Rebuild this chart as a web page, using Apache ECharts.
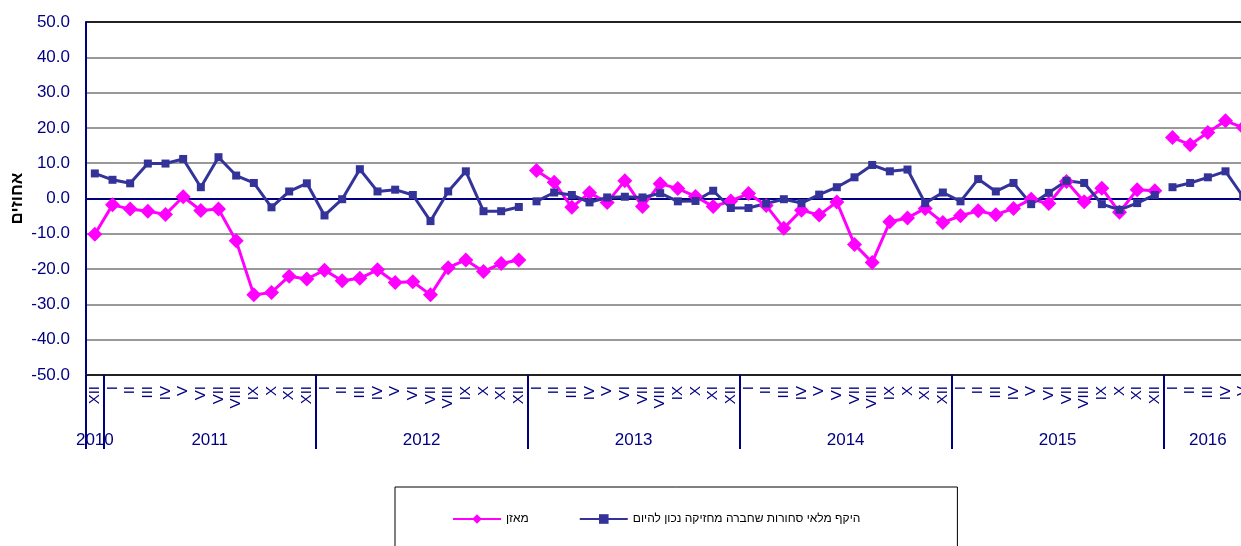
<!DOCTYPE html>
<html>
<head>
<meta charset="utf-8">
<script src="https://cdn.jsdelivr.net/npm/echarts@6/dist/echarts.min.js"></script>
<style>
  html, body { margin: 0; padding: 0; background: #fff; overflow: hidden; }
  /* הגרף המקורי חתוך בקצה הימני, לכן האלמנט רחב מהחלון */
  #chart { width: 1252px; height: 546px; }
</style>
</head>
<body>
<div id="chart"></div>
<script>
// תוויות חודשים (ספרות רומיות) ושנים
const romanMonths = ['I', 'II', 'III', 'IV', 'V', 'VI', 'VII', 'VIII', 'IX', 'X', 'XI', 'XII'];
const years = ['2010', '2011', '2012', '2013', '2014', '2015', '2016'];
// מספר החודשים שמוצגים בכל שנה (2010: רק דצמבר, 2016: ינואר-מאי)
const monthsPerYear = [1, 12, 12, 12, 12, 12, 5];

// מאזן
const balance = [
  -10.1, -1.8, -3.0, -3.6, -4.5, 0.5, -3.4, -3.0, -12.0, -27.3, -26.6, -22.0, -22.8,
  -20.3, -23.3, -22.6, -20.2, -23.8, -23.6, -27.3, -19.6, -17.4, -20.7, -18.4, -17.4,
  7.9, 4.6, -2.5, 1.6, -1.1, 5.0, -2.3, 4.2, 2.8, 0.6, -2.3, -0.7,
  1.4, -2.0, -8.4, -3.3, -4.7, -1.0, -13.0, -18.1, -6.6, -5.5, -2.8, -6.8,
  -4.9, -3.5, -4.6, -2.8, -0.2, -1.4, 4.8, -0.9, 2.9, -3.9, 2.5, 2.2,
  17.3, 15.2, 18.7, 22.0, 20.1
];

// היקף מלאי סחורות שחברה מחזיקה נכון להיום
const inventory = [
  7.1, 5.3, 4.3, 9.9, 9.9, 11.2, 3.2, 11.7, 6.5, 4.4, -2.5, 2.0, 4.3,
  -4.8, -0.2, 8.3, 2.0, 2.5, 1.0, -6.4, 2.0, 7.7, -3.6, -3.6, -2.4,
  -0.8, 1.7, 1.0, -1.1, 0.3, 0.5, 0.3, 1.5, -0.8, -0.7, 2.2, -2.7,
  -2.7, -1.4, -0.2, -1.3, 1.1, 3.2, 6.0, 9.5, 7.7, 8.2, -1.3, 1.7,
  -0.8, 5.5, 2.0, 4.4, -1.6, 1.6, 5.0, 4.4, -1.6, -3.2, -1.3, 1.0,
  3.2, 4.4, 6.0, 7.7, 0.5
];

// הסדרה נקטעת בין דצמבר 2012 לינואר 2013 ובין דצמבר 2015 לינואר 2016
const segments = [[0, 24], [25, 60], [61, 65]];

const BALANCE_NAME = 'מאזן';
const INVENTORY_NAME = 'היקף מלאי סחורות שחברה מחזיקה נכון להיום';
const NAVY = '#000080';
const FONT = '"Liberation Sans", Arial, "DejaVu Sans", sans-serif';

// קטגוריות חודשיות
const monthCats = [];
monthsPerYear.forEach((n, yi) => {
  const start = yi === 0 ? 12 - n : 0;
  for (let m = start; m < start + n; m++) monthCats.push(romanMonths[m]);
});

// ציר שנים בחצאי חודשים: גבולות שנה ותוויות באמצע כל שנה
const halfCount = monthCats.length * 2 + 1;
const yearBoundaries = [0];
const yearLabelAt = {};
let pos = 0;
monthsPerYear.forEach((n, yi) => {
  yearLabelAt[pos + n] = years[yi];
  pos += n * 2;
  yearBoundaries.push(pos);
});
const halfCats = [];
for (let i = 0; i < halfCount; i++) halfCats.push(yearLabelAt[i] || '');

function segmentSeries(name, values, style) {
  return segments.map(([a, b]) => Object.assign({
    name: name,
    type: 'line',
    xAxisIndex: 0,
    yAxisIndex: 0,
    connectNulls: false,
    data: values.map((v, i) => (i >= a && i <= b ? v : null))
  }, style));
}

const chart = echarts.init(document.getElementById('chart'));

const splitColors = [];
for (let i = 0; i <= 10; i++) {
  splitColors.push(i === 0 || i === 10 ? '#222' : (i === 5 ? NAVY : '#999'));
}

const option = {
  animation: false,
  textStyle: { fontFamily: FONT },
  grid: { left: 86, right: 0, top: 22, bottom: 171, containLabel: false, outerBoundsMode: 'none' },
  legend: {
    data: [BALANCE_NAME, INVENTORY_NAME],
    left: 395,
    top: 487,
    orient: 'horizontal',
    padding: [26, 97, 40, 57],
    itemGap: 50,
    itemWidth: 48,
    itemHeight: 12,
    borderColor: '#000',
    borderWidth: 1,
    textStyle: { fontSize: 12, color: '#000', fontFamily: FONT }
  },
  xAxis: [
    {
      type: 'category',
      data: monthCats,
      boundaryGap: true,
      position: 'bottom',
      axisLine: { show: true, onZero: false, lineStyle: { color: '#222', width: 2 } },
      axisTick: { show: false },
      axisLabel: {
        interval: 0,
        rotate: 90,
        margin: 11,
        fontSize: 15,
        color: NAVY,
        fontFamily: FONT
      },
      splitLine: { show: false }
    },
    {
      type: 'category',
      data: halfCats,
      boundaryGap: false,
      position: 'bottom',
      axisLine: { show: false, onZero: false },
      axisTick: {
        show: true,
        length: 74,
        interval: (idx) => yearBoundaries.indexOf(idx) >= 0,
        lineStyle: { color: NAVY, width: 2 }
      },
      axisLabel: {
        interval: (idx) => halfCats[idx] !== '',
        margin: 57,
        fontSize: 17,
        color: NAVY,
        fontFamily: FONT
      },
      splitLine: { show: false }
    }
  ],
  yAxis: {
    type: 'value',
    min: -50,
    max: 50,
    interval: 10,
    name: 'אחוזים',
    nameLocation: 'middle',
    nameGap: 60,
    nameMoveOverlap: false,
    nameTextStyle: { fontSize: 17, color: '#000', fontWeight: 'bold', fontFamily: FONT },
    axisLine: { show: true, lineStyle: { color: NAVY, width: 2 } },
    axisTick: { show: false },
    axisLabel: {
      margin: 16,
      fontSize: 17,
      color: NAVY,
      fontFamily: FONT,
      formatter: (v) => v.toFixed(1)
    },
    splitLine: { show: true, lineStyle: { color: splitColors, width: 2 } }
  },
  series: [].concat(
    segmentSeries(BALANCE_NAME, balance, {
      symbol: 'diamond',
      symbolSize: 15,
      itemStyle: { color: '#FF00FF' },
      lineStyle: { color: '#FF00FF', width: 3 }
    }),
    segmentSeries(INVENTORY_NAME, inventory, {
      symbol: 'rect',
      symbolSize: 8,
      itemStyle: { color: '#333399' },
      lineStyle: { color: '#333399', width: 3 }
    })
  )
};

chart.setOption(option);
</script>
</body>
</html>
